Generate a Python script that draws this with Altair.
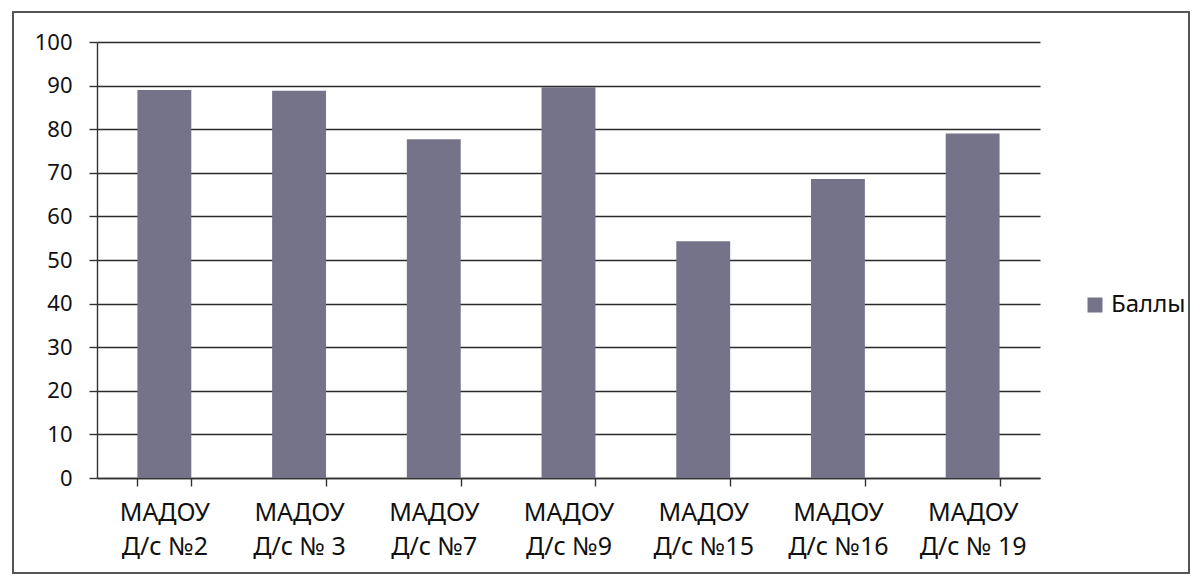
import altair as alt
import pandas as pd

categories = ["МАДОУ\nД/с №2", "МАДОУ\nД/с № 3", "МАДОУ\nД/с №7", "МАДОУ\nД/с №9",
              "МАДОУ\nД/с №15", "МАДОУ\nД/с №16", "МАДОУ\nД/с № 19"]
values = [89.0, 88.8, 77.7, 89.6, 54.3, 68.6, 79.0]
series = "Баллы"
y_ticks = [0, 10, 20, 30, 40, 50, 60, 70, 80, 90, 100]

df = pd.DataFrame({"cat": categories, "val": values, "series": [series] * len(values)})

FONT = "Noto Sans"
BAR = "#75738a"
W, H = 943, 436

bars = alt.Chart(df).mark_bar(color=BAR).encode(
    x=alt.X("cat:N", sort=categories, title=None,
            scale=alt.Scale(paddingInner=0.6, paddingOuter=0.3),
            axis=alt.Axis(labelExpr="split(datum.label, '\\n')", labelAngle=0,
                          labelFontSize=25, labelFont=FONT, labelColor="#111",
                          labelLineHeight=34, labelPadding=14, labelBaseline="top",
                          tickBand="extent", tickSize=8, tickColor="#333", tickWidth=1.4,
                          domainColor="#333", domainWidth=1.4, grid=False)),
    y=alt.Y("val:Q", title=None,
            scale=alt.Scale(domain=[0, 100], nice=False),
            axis=alt.Axis(values=y_ticks, labelFontSize=22, labelFont=FONT, labelColor="#111",
                          labelPadding=17, tickSize=8, tickColor="#333", tickWidth=1.4,
                          domainColor="#333", domainWidth=1.4,
                          grid=True, gridColor="#2a2a2a", gridWidth=1.5)),
    color=alt.Color("series:N", title=None,
                    scale=alt.Scale(domain=[series], range=[BAR]),
                    legend=alt.Legend(orient="none", legendX=986, legendY=251,
                                      symbolType="square", symbolSize=225,
                                      symbolStrokeWidth=0, labelFontSize=24,
                                      labelFont=FONT, labelColor="#111",
                                      labelOffset=4, padding=0)),
)

frame = alt.Chart(df).mark_rect(fill="transparent", stroke="#555", strokeWidth=1.2).encode(
    x=alt.value(-84), x2=alt.value(1092), y=alt.value(-30), y2=alt.value(531)
)

chart = alt.layer(frame, bars).properties(
    width=W, height=H,
    autosize=alt.AutoSizeParams(type="none"),
    padding={"left": 89, "top": 34, "right": 152, "bottom": 96},
    background="white",
).configure_view(strokeWidth=0)

chart.save("out.html", embed_options={"renderer": "svg", "actions": False})
